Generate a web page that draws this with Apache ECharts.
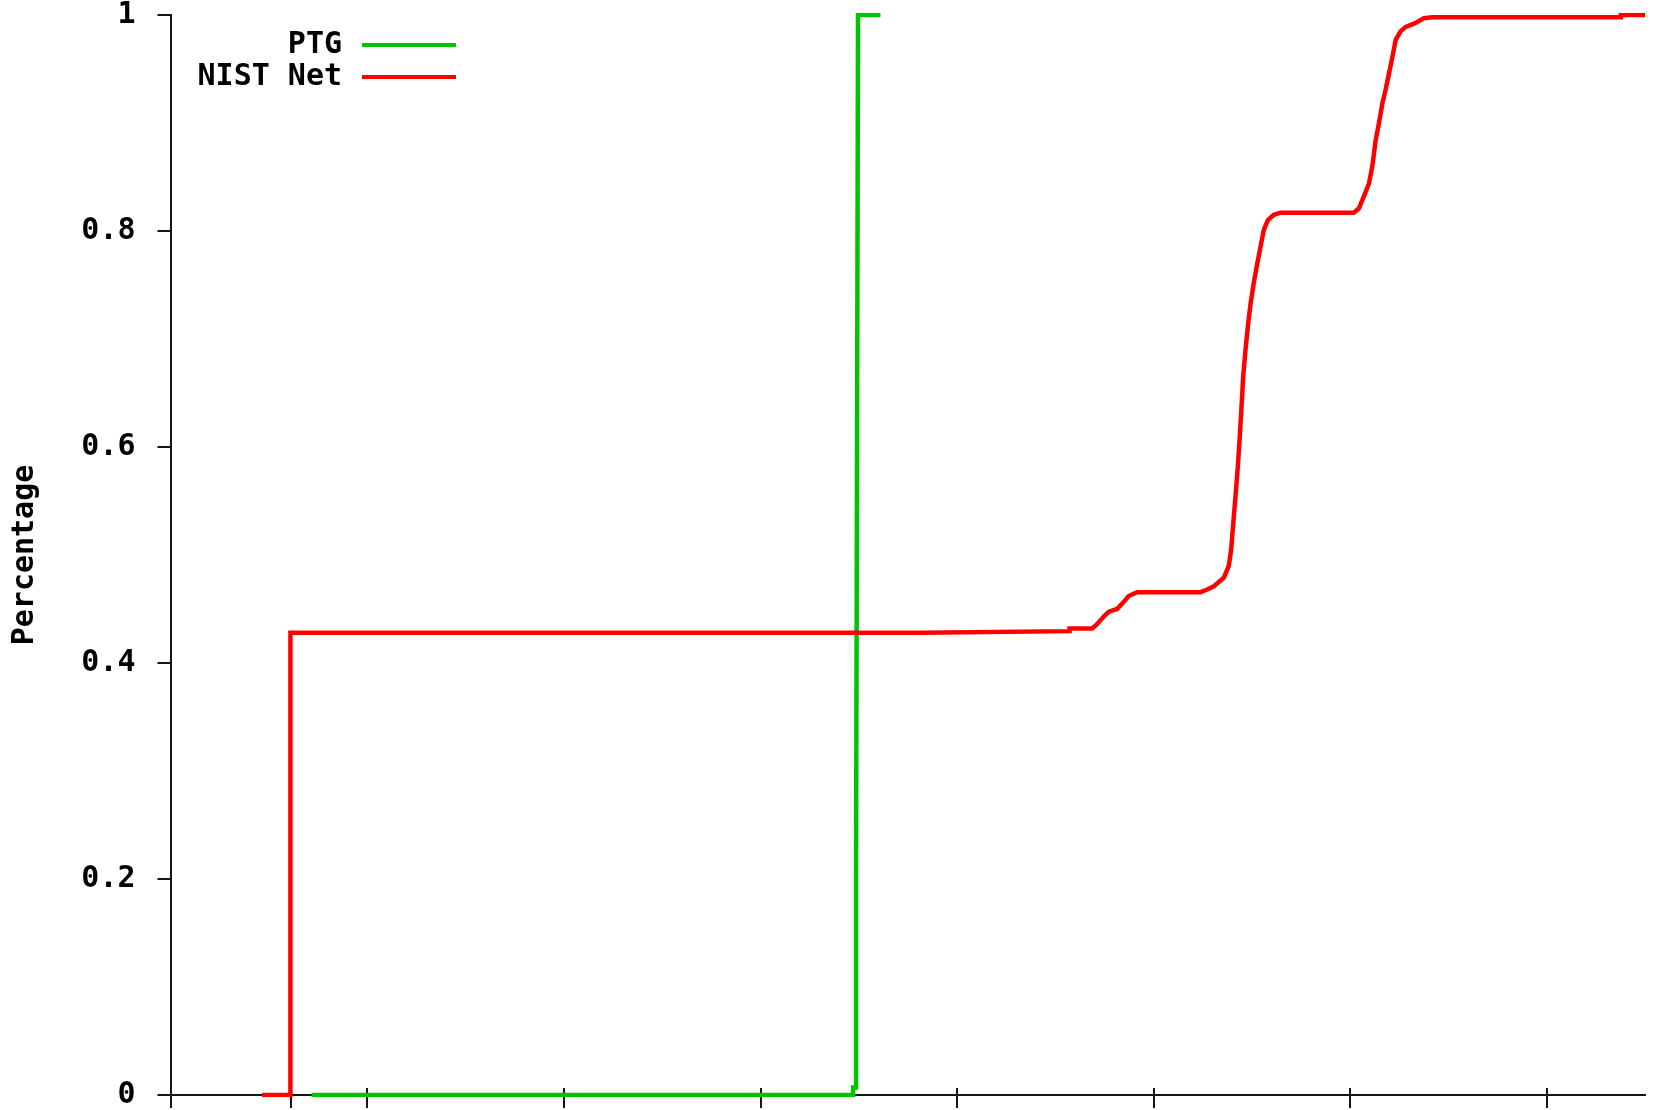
<!DOCTYPE html>
<html>
<head>
<meta charset="utf-8">
<title>PTG vs NIST Net CDF</title>
<script src="https://cdn.jsdelivr.net/npm/echarts@6/dist/echarts.min.js"></script>
<style>
  html, body { margin: 0; padding: 0; background: #ffffff; }
  #chart { width: 1656px; height: 1110px; }
</style>
</head>
<body>
<div id="chart"></div>
<script>
// Cumulative distributions, [x, fraction] pairs
const ptgData = [
  [0.718, 0], [3.472, 0], [3.472, 0.007], [3.487, 0.007], [3.487, 0.206],
  [3.497, 0.206], [3.497, 1.0], [3.611, 1.0]
];
const nistNetData = [
  [0.466, 0], [0.61, 0], [0.61, 0.428], [3.823, 0.428], [3.823, 0.4295],
  [4.573, 0.4295], [4.573, 0.432], [4.688, 0.432], [4.713, 0.436], [4.747, 0.443],
  [4.773, 0.4475], [4.815, 0.450], [4.841, 0.455], [4.874, 0.462], [4.917, 0.4656],
  [5.239, 0.4656], [5.273, 0.468], [5.307, 0.471], [5.358, 0.479], [5.383, 0.490],
  [5.395, 0.505], [5.406, 0.530], [5.417, 0.554], [5.429, 0.582], [5.439, 0.610],
  [5.448, 0.638], [5.456, 0.665], [5.468, 0.690], [5.482, 0.715], [5.494, 0.733],
  [5.510, 0.752], [5.528, 0.770], [5.545, 0.786], [5.561, 0.801], [5.582, 0.810],
  [5.612, 0.815], [5.646, 0.817], [6.019, 0.817], [6.045, 0.821], [6.070, 0.832],
  [6.096, 0.844], [6.113, 0.860], [6.130, 0.884], [6.147, 0.900], [6.164, 0.918],
  [6.181, 0.931], [6.198, 0.946], [6.215, 0.961], [6.232, 0.977], [6.257, 0.985],
  [6.283, 0.989], [6.325, 0.992], [6.376, 0.997], [6.418, 0.998], [7.377, 0.998],
  [7.377, 1.0], [7.5, 1.0]
];
const seriesNames = ['PTG', 'NIST Net'];
const xTicks = [0, 0.61, 1, 2, 3, 4, 5, 6, 7];
const yTickLabels = ['0', '0.2', '0.4', '0.6', '0.8', '1'];
const yAxisTitle = 'Percentage';

const FONT = '"DejaVu Sans Mono", "Liberation Mono", monospace';
const AXIS = '#141414';

const chart = echarts.init(document.getElementById('chart'), null, { renderer: 'canvas' });

const legendBase = {
  orient: 'vertical',
  align: 'right',
  right: 1200,
  icon: 'rect',
  itemWidth: 94,
  itemHeight: 4,
  padding: 0,
  textStyle: { fontFamily: FONT, fontSize: 30, fontWeight: 'bold', color: '#000', padding: [0, 15, 0, 0] }
};

chart.setOption({
  backgroundColor: '#ffffff',
  animation: false,
  grid: { left: 170.5, right: 11, top: 15, bottom: 14, containLabel: false },
  legend: [
    Object.assign({}, legendBase, { data: [seriesNames[0]], top: 30 }),
    Object.assign({}, legendBase, { data: [seriesNames[1]], top: 62 })
  ],
  xAxis: [
    {
      type: 'value', position: 'bottom', min: 0, max: 7.5, z: 3,
      axisLine: { show: true, lineStyle: { color: AXIS, width: 2 } },
      axisTick: { show: true, inside: false, length: 13, customValues: xTicks, lineStyle: { color: AXIS, width: 2 } },
      axisLabel: { show: false },
      splitLine: { show: false }
    },
    {
      type: 'value', position: 'top', min: 0, max: 7.5, z: 3,
      axisLine: { show: true, lineStyle: { color: AXIS, width: 2 } },
      axisTick: { show: true, inside: false, length: 7, customValues: xTicks, lineStyle: { color: AXIS, width: 2 } },
      axisLabel: { show: false },
      splitLine: { show: false }
    }
  ],
  yAxis: [
    {
      type: 'value', position: 'left', min: 0, max: 1, interval: 0.2, z: 3,
      name: yAxisTitle, nameLocation: 'middle', nameRotate: 90, nameGap: 130,
      nameTextStyle: { fontFamily: FONT, fontSize: 30, fontWeight: 'bold', color: '#000' },
      axisLine: { show: true, lineStyle: { color: AXIS, width: 2 } },
      axisTick: { show: true, inside: false, length: 13, lineStyle: { color: AXIS, width: 2 } },
      axisLabel: {
        show: true, margin: 35, fontFamily: FONT, fontSize: 30, fontWeight: 'bold', color: '#000',
        formatter: v => yTickLabels[Math.round(v / 0.2)]
      },
      splitLine: { show: false }
    },
    {
      type: 'value', position: 'right', min: 0, max: 1, z: 3,
      axisLine: { show: true, lineStyle: { color: AXIS, width: 2 } },
      axisTick: { show: false },
      axisLabel: { show: false },
      splitLine: { show: false }
    }
  ],
  series: [
    {
      name: seriesNames[0], type: 'line', data: ptgData,
      color: '#00c400', showSymbol: false, symbol: 'none',
      lineStyle: { width: 4.5, color: '#00c400', join: 'miter' }
    },
    {
      name: seriesNames[1], type: 'line', data: nistNetData,
      color: '#ff0000', showSymbol: false, symbol: 'none',
      lineStyle: { width: 4.5, color: '#ff0000', join: 'miter' }
    }
  ]
});
</script>
</body>
</html>
